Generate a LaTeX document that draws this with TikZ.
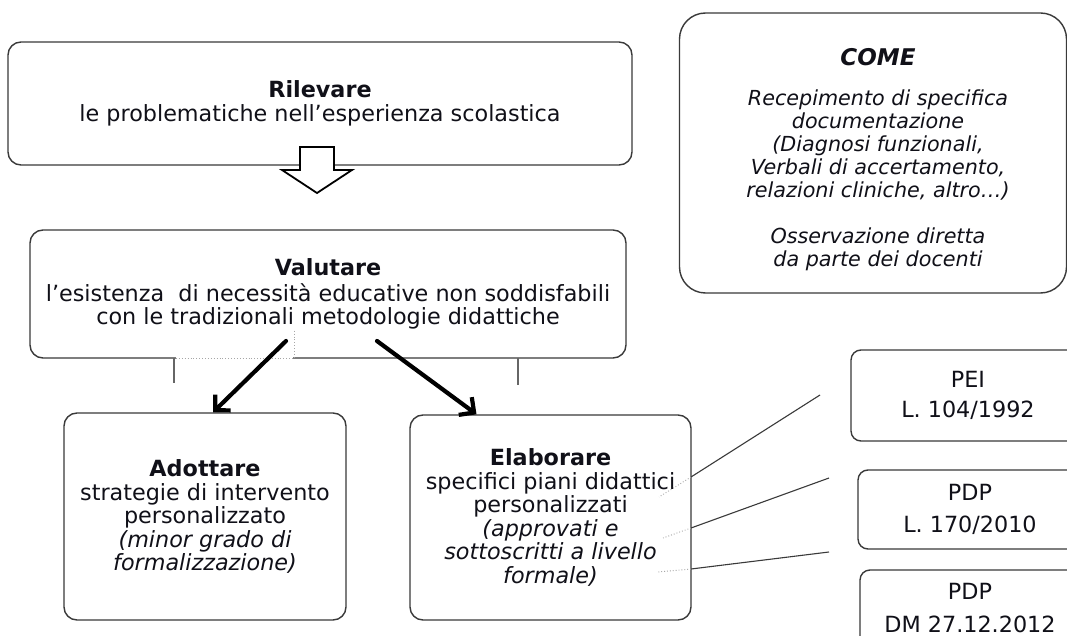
\documentclass[tikz,border=0pt]{standalone}
\usepackage{fontspec}
\setmainfont{DejaVu Sans}
\usetikzlibrary{arrows.meta}
\definecolor{edge}{HTML}{3A3A3A}
\definecolor{txt}{HTML}{101018}
\tikzset{
  box/.style={draw=edge, line width=1.4pt, rounded corners=13pt, fill=white,
    align=center, inner sep=0pt, text=txt,
    font=\fontsize{22.3}{23.5}\selectfont},
  smallbox/.style={box, rounded corners=10pt},
  plain/.style={align=center, inner sep=0pt, text=txt},
  bigarrow/.style={line width=4.2pt, line cap=round, black,
    -{Straight Barb[length=11pt,width=22pt,line width=4.2pt]}},
  thinlink/.style={draw=edge, line width=1.1pt},
  ghost/.style={draw=gray!70, line width=0.9pt, dotted},
  bracket/.style={draw=gray!80!black, line width=1.2pt}
}
\begin{document}
\begin{tikzpicture}[x=1pt,y=-1pt]
\clip (0,0) rectangle (1067,636);
\fill[white] (0,0) rectangle (1067,636);

% boxes
\node[box, minimum width=624pt, minimum height=123pt] (ril) at (320,103.5)
  {\textbf{Rilevare}\\[1pt]le problematiche nell’esperienza scolastica};
\node[box, minimum width=596pt, minimum height=128pt] (val) at (328,294)
  {\textbf{Valutare}\\[2pt]l’esistenza \ di necessità educative non soddisfabili\\con le tradizionali metodologie didattiche};
\node[box, minimum width=282pt, minimum height=207pt] (ado) at (205,516.5)
  {\textbf{Adottare}\\strategie di intervento\\personalizzato\\\textit{(minor grado di}\\\textit{formalizzazione)}};
\node[box, minimum width=281pt, minimum height=205pt] (ela) at (550.5,517.5)
  {\textbf{Elaborare}\\specifici piani didattici\\personalizzati\\\textit{(approvati e}\\\textit{sottoscritti a livello}\\\textit{formale)}};
\node[box, rounded corners=26pt, minimum width=387pt, minimum height=280pt] (come) at (873,153) {};
\node[plain, font=\fontsize{20.7}{23}\selectfont\itshape] (cometxt) at ([xshift=5pt,yshift=-7pt]come.center)
  {{\fontsize{23}{23}\selectfont\textbf{COME}}\\[17pt]Recepimento di specifica\\documentazione\\(Diagnosi funzionali,\\Verbali di accertamento,\\relazioni cliniche, altro…)\\[23pt]Osservazione diretta\\da parte dei docenti};
\node[smallbox, minimum width=234pt, minimum height=91pt] (pei) at (968,395.5)
  {PEI\\[7pt]L. 104/1992};
\node[smallbox, minimum width=224pt, minimum height=79pt] (pdpa) at (970,509.5)
  {PDP\\[8pt]L. 170/2010};
\node[smallbox, minimum width=220pt, minimum height=76pt] (pdpb) at (970,608)
  {PDP\\[10pt]DM 27.12.2012};

% hollow arrow between Rilevare and Valutare
\draw[draw=black, line width=1.8pt, fill=white, line join=miter]
  (300,147) -- (334,147) -- (334,170) -- (352,170) -- (317,193)
  -- (282,170) -- (300,170) -- cycle;

% bracket under Valutare
\draw[draw=white, line width=1.6pt] (176,358) -- (293,358);
\draw[ghost] (176,358) -- (293,358);
\draw[ghost] ([xshift=-34pt]val.south) ++(0,-28) coordinate (dv) -- ([xshift=-34pt]val.south);
\draw[bracket] (174,358) -- (174,383);
\draw[bracket] (518,358) -- (518,385);

% bold arrows
\coordinate (va) at (286,341);
\coordinate (vb) at (377,341);
\draw[bigarrow] (va) -- ([xshift=8pt]ado.north);
\draw[bigarrow] (vb) -- ([xshift=-74pt]ela.north);

% links from Elaborare to the right boxes
\coordinate (e1) at (691,477);
\coordinate (e2) at (691,528);
\coordinate (e3) at (691,569);
\coordinate (p1) at (820,395);
\coordinate (p2) at (829,478);
\coordinate (p3) at (829,552);
\draw[thinlink] (e1) -- (p1);
\draw[thinlink] (e2) -- (p2);
\draw[thinlink] (e3) -- (p3);
\draw[ghost] (e1) -- (659,497);
\draw[ghost] (e2) -- (663,538);
\draw[ghost] (e3) -- (658,572);
\end{tikzpicture}
\end{document}
